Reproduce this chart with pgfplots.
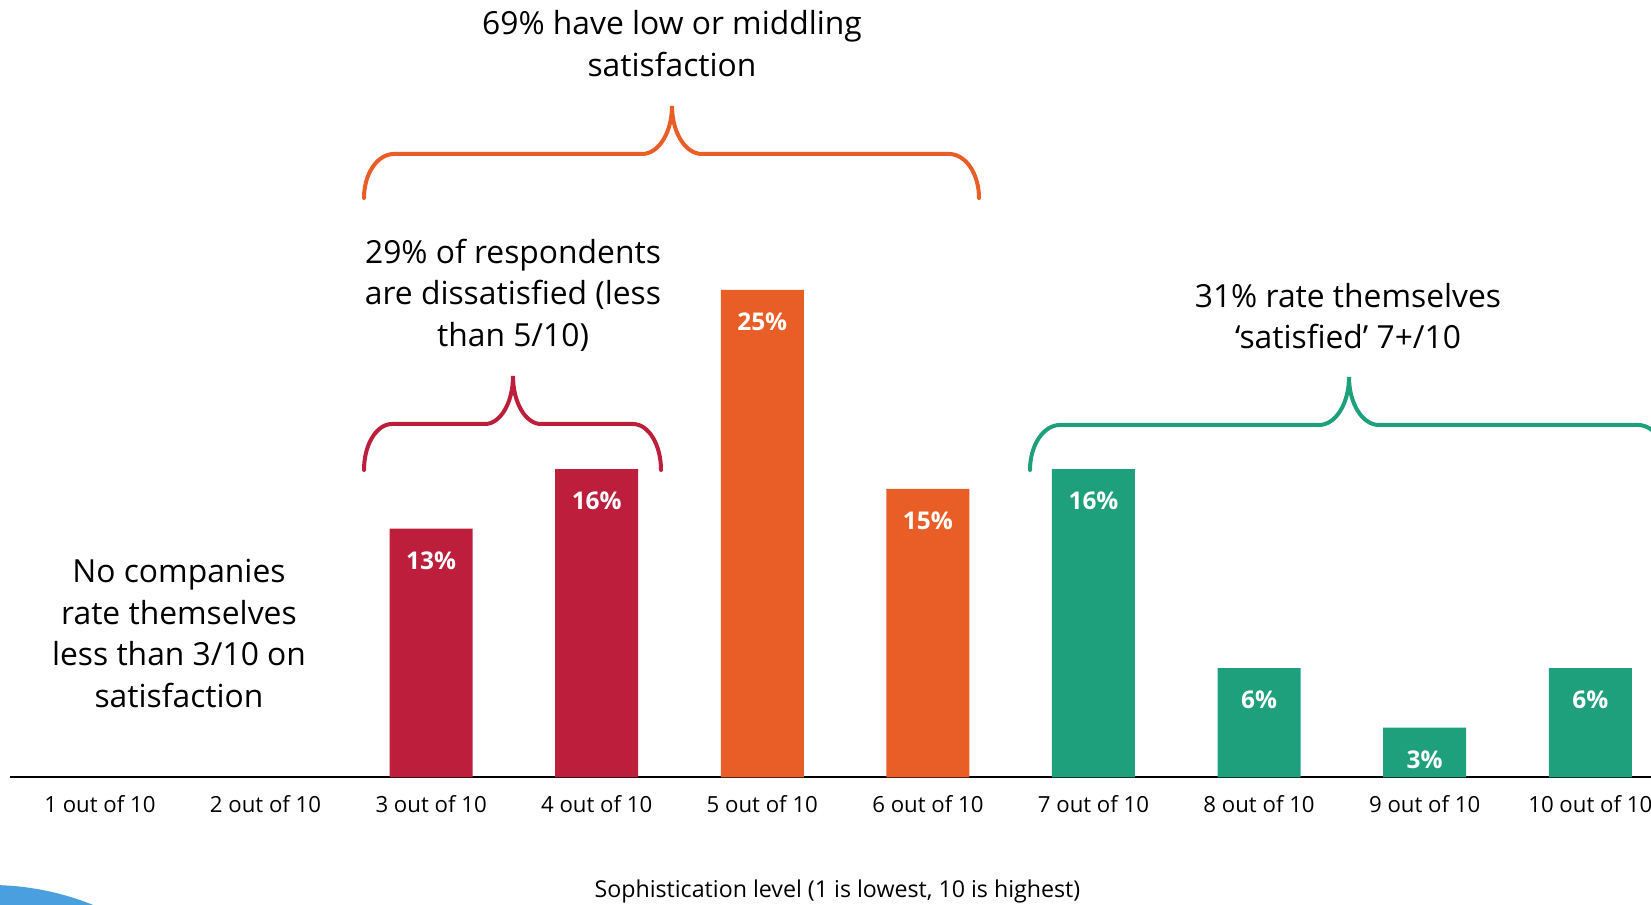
\documentclass[border=0pt]{standalone}
\usepackage{fontspec}
\setmainfont{Open Sans}
\usepackage{pgfplots}
\pgfplotsset{compat=1.18}

\definecolor{dissat}{RGB}{188,30,60}
\definecolor{middling}{RGB}{233,93,39}
\definecolor{satis}{RGB}{31,160,124}
\definecolor{swoosh}{RGB}{74,160,222}

\begin{document}
\begin{tikzpicture}
\begin{axis}[
  at={(5pt,63.75pt)}, anchor=south west,
  scale only axis, width=827.4pt, height=388.75pt,
  xmin=0.457, xmax=10.45, ymin=0.5, ymax=39.57,
  axis x line=bottom, axis y line=none,
  x axis line style={-, black, line width=1pt},
  xtick={1,...,10},
  xticklabels={1 out of 10, 2 out of 10, 3 out of 10, 4 out of 10, 5 out of 10,
               6 out of 10, 7 out of 10, 8 out of 10, 9 out of 10, 10 out of 10},
  major tick length=0pt,
  xticklabel style={font=\fontsize{11.1}{13}\selectfont, anchor=center, yshift=-13.5pt},
  xlabel={Sophistication level (1 is lowest, 10 is highest)},
  xlabel style={at={(axis description cs:0.5,0)}, anchor=center, yshift=-57pt,
                font=\fontsize{11.6}{13}\selectfont},
  ybar, bar width=41.5pt,
  /pgf/number format/assume math mode=true,
  nodes near coords={\pgfmathprintnumber{\pgfplotspointmeta}\%},
  every node near coord/.append style={font=\fontsize{12.2}{14}\selectfont\bfseries,
                text=white, anchor=center, yshift=-16pt},
]
\addplot[fill=dissat, draw=none, bar shift=0pt] coordinates {(3,13) (4,16)};
\addplot[fill=middling, draw=none, bar shift=0pt] coordinates {(5,25) (6,15)};
\addplot[fill=satis, draw=none, bar shift=0pt] coordinates {(7,16) (8,6) (9,3) (10,6)};
\end{axis}

% annotations, in a pixel-like frame with y running downwards
\begin{scope}[shift={(0,452.5pt)}, x=0.5pt, y=-0.5pt]
  \fill[swoosh] (-10,1160) circle[radius=275];

  % orange brace
  \draw[middling, line width=2pt, line cap=round]
    (364,198) .. controls (364,173.7) and (377.4,154) .. (394,154)
    -- (642,154) .. controls (658.6,154) and (672,132.5) .. (672,106)
    .. controls (672,132.5) and (685.4,154) .. (702,154)
    -- (949,154) .. controls (965.6,154) and (979,173.7) .. (979,198);
  % red brace
  \draw[dissat, line width=2pt, line cap=round]
    (364,470) .. controls (364,444.6) and (376.5,424) .. (392,424)
    -- (485,424) .. controls (500.5,424) and (513,402.5) .. (513,376)
    .. controls (513,402.5) and (525.5,424) .. (541,424)
    -- (633,424) .. controls (648.5,424) and (661,444.6) .. (661,470);
  % green brace
  \draw[satis, line width=2pt, line cap=round]
    (1030,470) .. controls (1030,445.2) and (1043.4,425) .. (1060,425)
    -- (1319,425) .. controls (1335.6,425) and (1349,403.5) .. (1349,377)
    .. controls (1349,403.5) and (1362.4,425) .. (1379,425)
    -- (1638,425) .. controls (1654.6,425) and (1668,445.2) .. (1668,470);

  \node[align=center, font=\fontsize{15.9}{21}\selectfont] at (672,44)
    {69\% have low or middling\\satisfaction};
  \node[align=center, font=\fontsize{15.9}{20.75}\selectfont] at (513,295)
    {29\% of respondents\\are dissatisfied (less\\than 5/10)};
  \node[align=center, font=\fontsize{15.9}{20.75}\selectfont] at (1348,316)
    {31\% rate themselves\\‘satisfied’ 7+/10};
  \node[align=center, font=\fontsize{15.9}{20.75}\selectfont] at (179,633.5)
    {No companies\\rate themselves\\less than 3/10 on\\satisfaction};
\end{scope}

\pgfresetboundingbox
\path[use as bounding box] (0,0) rectangle (825.5pt,452.5pt);
\end{tikzpicture}
\end{document}
